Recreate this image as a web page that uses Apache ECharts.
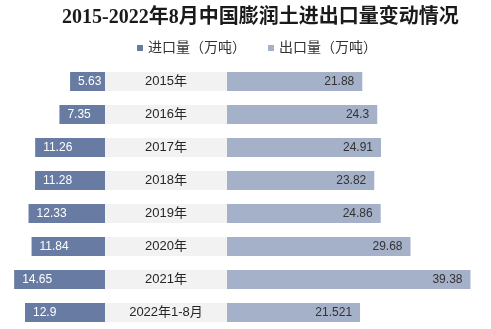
<!DOCTYPE html>
<html>
<head>
<meta charset="utf-8">
<script src="https://cdn.jsdelivr.net/npm/echarts@6/dist/echarts.min.js"></script>
<style>html,body{margin:0;padding:0;background:#fff;}#c{width:491px;height:329px;}</style>
</head>
<body>
<div id="c"></div>
<script>
const categories = ['2015年','2016年','2017年','2018年','2019年','2020年','2021年','2022年1-8月'];
const importVals = [5.63, 7.35, 11.26, 11.28, 12.33, 11.84, 14.65, 12.9];
const exportVals = [21.88, 24.3, 24.91, 23.82, 24.86, 29.68, 39.38, 21.521];
const seriesNames = ['进口量（万吨）', '出口量（万吨）'];

const chart = echarts.init(document.getElementById('c'), null, {renderer: 'canvas'});
const gridTop = 65, gridH = 265;
const option = {
  animation: false,
  backgroundColor: '#ffffff',
  title: {
    text: '2015-2022年8月中国膨润土进出口量变动情况',
    left: 57, top: 3,
    textStyle: {fontFamily: 'Liberation Serif, Noto Sans CJK SC', fontWeight: 'bold', fontSize: 20, color: '#1a1a1a'}
  },
  legend: {
    data: seriesNames,
    left: 132, top: 36,
    itemWidth: 6, itemHeight: 6, itemGap: 22, icon: 'rect',
    textStyle: {fontFamily: 'Liberation Sans, Noto Sans CJK SC', fontSize: 14, color: '#333333'}
  },
  grid: [
    {left: 0, width: 105, top: gridTop, height: gridH},
    {left: 105, width: 122, top: gridTop, height: gridH},
    {left: 227, width: 264, top: gridTop, height: gridH}
  ],
  xAxis: [
    {gridIndex: 0, type: 'value', min: 0, max: 16.93, inverse: true, show: false},
    {gridIndex: 1, type: 'value', min: 0, max: 1, show: false},
    {gridIndex: 2, type: 'value', min: 0, max: 42.7, show: false}
  ],
  yAxis: [
    {gridIndex: 0, type: 'category', data: categories, inverse: true, show: false},
    {gridIndex: 1, type: 'category', data: categories, inverse: true, position: 'left', offset: -61,
      axisLine: {show: false}, axisTick: {show: false},
      axisLabel: {margin: 0, align: 'center', verticalAlign: 'middle', width: 122, height: 19, lineHeight: 19,
        backgroundColor: '#f2f2f2', fontFamily: 'Liberation Sans, Noto Sans CJK SC', fontSize: 13, color: '#262626'}
    },
    {gridIndex: 2, type: 'category', data: categories, inverse: true, show: false}
  ],
  series: [
    {name: seriesNames[0], type: 'bar', xAxisIndex: 0, yAxisIndex: 0, data: importVals, barWidth: 19,
      itemStyle: {color: '#687ba3'},
      label: {show: true, position: 'insideLeft', distance: 8, color: '#ffffff', fontSize: 12, fontFamily: 'Liberation Sans'}
    },
    {name: seriesNames[1], type: 'bar', xAxisIndex: 2, yAxisIndex: 2, data: exportVals, barWidth: 19,
      itemStyle: {color: '#a5b1c9'},
      label: {show: true, position: 'insideRight', distance: 8, color: '#333333', fontSize: 12, fontFamily: 'Liberation Sans'}
    }
  ]
};
chart.setOption(option);
</script>
</body>
</html>
